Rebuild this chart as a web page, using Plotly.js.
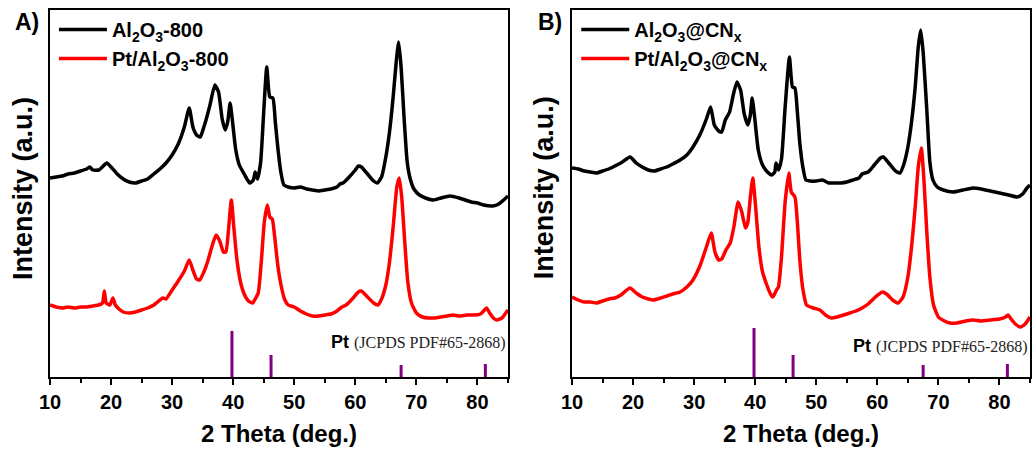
<!DOCTYPE html>
<html><head><meta charset="utf-8">
<script src="https://cdn.plot.ly/plotly-3.0.1.min.js"></script>
<style>html,body{margin:0;padding:0;background:#fff}</style>
</head><body>
<div id="chart" style="width:1033px;height:457px"></div>
<script>
// Panel A: Al2O3-800 (black) and Pt/Al2O3-800 (red), offset intensities (a.u.)
const aBlackX = [10,11,12,13,14,15,16,16.5,17,18,19.3,20,21,22,23,24,25,26,27,28,29,30,31,32,32.8,33.4,34,34.6,35.2,35.6,36.2,37.0,37.6,38.2,38.7,39.1,39.5,39.9,40.4,41,41.8,42.7,43.3,43.6,44.0,44.5,45.0,45.5,46.0,46.5,46.9,47.3,47.8,48.3,49,50,51,52,53,54,55,56,57,57.5,58,59,60,60.5,61,62,63,63.6,64.3,65,65.6,66.2,66.7,67.1,67.5,68,68.5,69,69.6,70.5,71.5,72.8,74,75.5,77,78,79,80,81,82.5,83.5,84.3,85];
const aBlackY = [199,200,201,203,204,206,208,210,207,207,214,210,203,198,195,194,196,198,203,208,214,222,233,250,269,250,242,240,250,258,272,292,285,258,247,255,274,255,228,212,203,194,197,205,198,215,265,310,280,279,255,230,205,192,190,189,190,188,187,186,187,188,190,193,194,200,207,211,210,203,196,194,200,220,245,280,315,335,310,258,215,198,188,182,179,177,179,181,179,177,175,174,172,171,173,177,181];
const aRedX = [10,11,12,13,14,15,16,17,18,18.6,18.9,19.2,19.8,20.3,20.7,21.3,22,23,24,25,26,27,28,28.5,29,30,31,32,32.8,33.4,34,34.5,35.2,35.8,36.5,37.2,37.8,38.4,38.8,39.2,39.7,40.1,40.6,41.2,41.8,42.5,43.2,43.6,44.1,44.6,45.1,45.6,46.0,46.4,46.8,47.3,47.8,48.4,49,50,51,52,53,54,55,56,57,57.8,58.5,59.5,60.5,61,62,63,63.7,64.3,65,65.6,66.2,66.8,67.2,67.6,68.1,68.6,69.2,70,71,72,73,74,75,76,77,78.3,79.5,80.5,81,81.5,82,82.6,83.2,84,85];
const aRedY = [72,70,69,70,69,70,70,71,72,74,86,74,72,79,72,68,65,64,65,67,69,72,77,79,78,87,96,106,117,107,98,97,105,115,130,142,136,125,125,145,177,150,118,95,83,76,74,78,84,115,155,172,160,158,140,112,93,78,72,70,66,63,61,61,62,63,66,70,72,78,85,86,80,74,72,78,92,115,150,190,199,180,135,95,74,64,60,59,59,60,61,62,61,62,62,63,66,69,64,59,57,59,67];

// Panel B: Al2O3@CNx (black) and Pt/Al2O3@CNx (red)
const bBlackX = [10,11,12,13,14,15,16,17,18,19.5,20.5,21.5,22.5,23.5,24.5,25.5,26.5,27.7,28.8,29.8,31,32,32.7,33.3,34,34.5,35.1,35.8,36.4,37.0,37.6,38.2,38.8,39.2,39.5,39.9,40.5,41.2,42,42.7,43.2,43.4,43.8,44.3,44.9,45.6,46.1,46.5,46.9,47.3,47.8,48.3,49,50,51,52,53,54,55,56,57,57.5,58.5,59.5,60.5,61,62,63,63.7,64.3,65,65.6,66.2,66.7,67.1,67.5,68.1,68.6,69.1,69.8,70.8,72.4,74,75.7,77,78.5,80,81.5,82.9,83.8,84.5,85];
const bBlackY = [209,208,206,205,204,206,208,211,214,220,214,210,207,206,208,210,213,217,222,230,243,258,270,252,246,245,257,265,282,295,287,263,252,262,279,260,227,212,205,202,205,214,207,218,270,320,290,289,265,234,210,197,196,196,197,194,194,194,195,197,199,203,205,212,219,220,213,206,204,212,230,255,290,330,347,325,267,215,197,190,187,185,187,189,188,186,184,182,180,183,189,192];
const bRedX = [10,11,12,13,14,15,16,17,18,19.5,20.5,21.5,22.5,23.3,24.5,25.5,26.5,27.7,28.8,29.8,31,32,32.8,33.4,34.0,34.5,35.2,35.9,36.5,37.2,37.8,38.4,38.8,39.2,39.6,40.0,40.6,41.2,41.9,42.5,42.9,43.4,43.8,44.3,44.9,45.5,45.9,46.5,46.9,47.3,47.8,48.4,49.5,50.6,51.5,52.5,53.4,54.5,55.5,56.5,57.5,58.5,59.5,60.8,61.5,62.5,63.4,64.2,65,65.6,66.2,66.7,67.2,67.6,68.1,68.6,69.2,70,71,71.9,73,74.5,75.7,77,78.5,80,81,81.4,81.9,82.6,83.4,84.2,85];
const bRedY = [80,77,75,75,74,76,78,79,82,89,84,80,78,77,79,81,83,85,90,97,112,130,144,125,117,118,127,134,150,175,165,149,155,180,199,175,130,105,92,83,80,86,90,120,175,204,185,180,155,117,88,72,69,67,62,59,60,62,64,66,69,73,79,85,83,77,74,80,100,130,170,210,229,200,145,100,72,60,56,54,54,56,57,56,57,58,60,62,58,53,50,53,60];

// Pt reference pattern (JCPDS PDF#65-2868)
const ptPos = [39.8, 46.2, 67.5, 81.3];
const ptHeightA = [46, 22, 12, 13];
const ptHeightB = [49, 22, 12, 13];

const labelsA = ['Al<sub>2</sub>O<sub>3</sub>-800', 'Pt/Al<sub>2</sub>O<sub>3</sub>-800'];
const labelsB = ['Al<sub>2</sub>O<sub>3</sub>@CN<sub>x</sub>', 'Pt/Al<sub>2</sub>O<sub>3</sub>@CN<sub>x</sub>'];
const xTicks = [10,20,30,40,50,60,70,80];

function sticks(pos, h) {
  const x = [], y = [];
  pos.forEach((p, i) => { x.push(p, p, null); y.push(0, h[i], null); });
  return {x, y};
}
const sA = sticks(ptPos, ptHeightA), sB = sticks(ptPos, ptHeightB);
const SANS = 'Liberation Sans, Arial, sans-serif';
const lineOpt = (c) => ({color: c, width: 3.5, shape: 'spline', smoothing: 0.5});

const traces = [
  {x: aBlackX, y: aBlackY, name: labelsA[0], mode: 'lines', line: lineOpt('#000000'), xaxis: 'x', yaxis: 'y', legend: 'legend'},
  {x: aRedX, y: aRedY, name: labelsA[1], mode: 'lines', line: lineOpt('#ff0000'), xaxis: 'x', yaxis: 'y', legend: 'legend'},
  {x: sA.x, y: sA.y, mode: 'lines', line: {color: '#800080', width: 3}, showlegend: false, xaxis: 'x', yaxis: 'y'},
  {x: bBlackX, y: bBlackY, name: labelsB[0], mode: 'lines', line: lineOpt('#000000'), xaxis: 'x2', yaxis: 'y2', legend: 'legend2'},
  {x: bRedX, y: bRedY, name: labelsB[1], mode: 'lines', line: lineOpt('#ff0000'), xaxis: 'x2', yaxis: 'y2', legend: 'legend2'},
  {x: sB.x, y: sB.y, mode: 'lines', line: {color: '#800080', width: 3}, showlegend: false, xaxis: 'x2', yaxis: 'y2'}
];

const xax = (dom, anchor) => ({
  domain: dom, anchor: anchor, range: [10, 85], tickvals: xTicks,
  showline: true, mirror: true, linewidth: 2, linecolor: '#000',
  ticks: 'outside', ticklen: 6, tickwidth: 2, tickcolor: '#000',
  minor: {dtick: 5, tick0: 0, ticks: 'outside', ticklen: 4, tickwidth: 2, tickcolor: '#000', showgrid: false},
  showgrid: false, zeroline: false,
  tickfont: {family: SANS, size: 20, color: '#000', weight: 'bold'},
  title: {text: '2 Theta (deg.)', standoff: 13, font: {family: SANS, size: 24, color: '#000', weight: 'bold'}}
});
const yax = (anchor) => ({
  anchor: anchor, range: [0, 367], showline: true, mirror: true, linewidth: 2, linecolor: '#000',
  ticks: '', showticklabels: false, showgrid: false, zeroline: false
});

const legendOpt = (x) => ({
  x: x, y: 1.0, xanchor: 'left', yanchor: 'top', bgcolor: 'rgba(0,0,0,0)', borderwidth: 0,
  font: {family: SANS, size: 20, color: '#000', weight: 'bold'}, itemwidth: 48, tracegroupgap: 0
});

const ytitle = (x, y) => ({xref: 'paper', yref: 'paper', x: x, y: y, xanchor: 'center', yanchor: 'middle',
  textangle: -90, showarrow: false, text: 'Intensity (a.u.)', font: {family: SANS, size: 27, color: '#000', weight: 'bold'}});
const panel = (x, t) => ({xref: 'paper', yref: 'paper', x: x, y: 0.967, xanchor: 'center', yanchor: 'middle',
  showarrow: false, text: t, font: {family: SANS, size: 23, color: '#000', weight: 'bold'}});
const ptNote = (xr, yr, y) => ({xref: xr, yref: yr, x: 85, y: y, xanchor: 'right', yanchor: 'middle', showarrow: false,
  text: '<b>Pt</b> <span style="font-family:Liberation Serif, Times New Roman, serif;font-weight:normal;font-size:16px;fill:#222">(JCPDS PDF#65-2868)</span>',
  font: {family: SANS, size: 18, color: '#000'}});

const layout = {
  width: 1033, height: 457,
  margin: {l: 50, r: 3, t: 10, b: 80},
  paper_bgcolor: '#fff', plot_bgcolor: '#fff',
  xaxis: xax([0, 0.4673], 'y'),
  yaxis: Object.assign(yax('x'), {domain: [0, 1]}),
  xaxis2: xax([0.5327, 1], 'y2'),
  yaxis2: Object.assign(yax('x2'), {domain: [0, 1]}),
  legend: legendOpt(0.004),
  legend2: legendOpt(0.537),
  showlegend: true,
  annotations: [
    ytitle(-0.0276, 0.515), ytitle(0.504, 0.517),
    panel(-0.0235, 'A)'), panel(0.5102, 'B)'),
    ptNote('x', 'y', 35), ptNote('x2', 'y2', 31)
  ]
};

Plotly.newPlot('chart', traces, layout, {displayModeBar: false, staticPlot: true});
</script>
</body></html>
